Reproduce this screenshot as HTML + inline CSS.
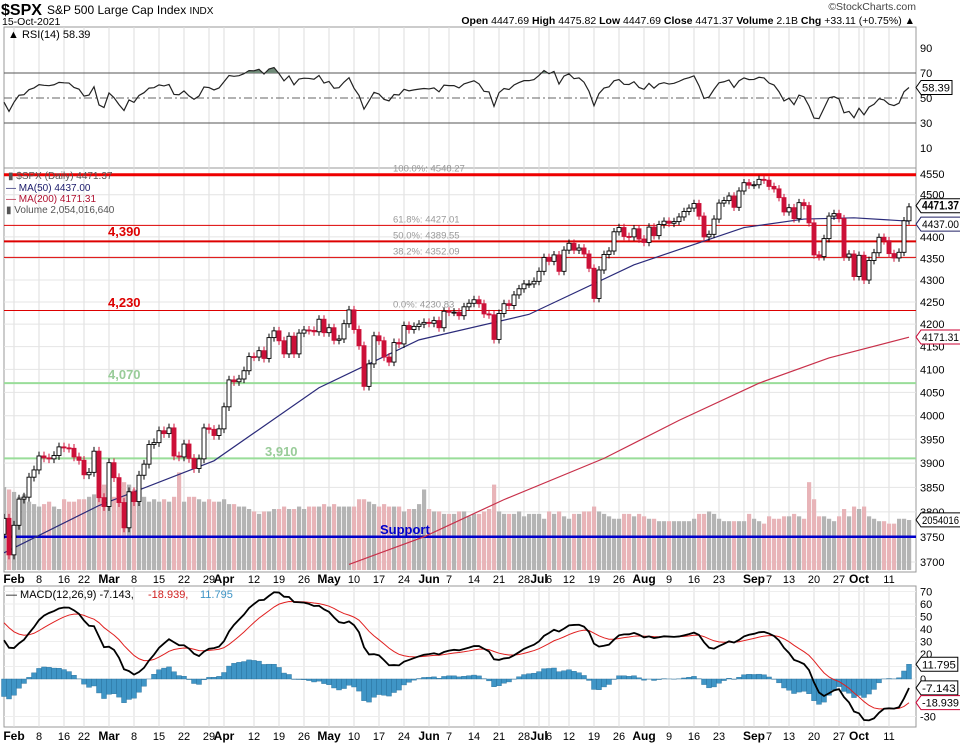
<!DOCTYPE html>
<html><head><meta charset="utf-8"><style>
body{margin:0;background:#fff;width:960px;height:744px;overflow:hidden;font-family:"Liberation Sans",sans-serif}
svg text{font-family:"Liberation Sans",sans-serif}
</style></head><body>
<svg id="c" width="960" height="744" xmlns="http://www.w3.org/2000/svg">
<text x="1" y="15" font-size="16" font-weight="bold">$SPX</text>
<text x="47" y="14" font-size="12">S&amp;P 500 Large Cap Index <tspan font-size="10">INDX</tspan></text>
<text x="2" y="25" font-size="10.5">15-Oct-2021</text>
<text x="916" y="10" font-size="10.5" fill="#444" text-anchor="end">©StockCharts.com</text>
<text x="915" y="24" font-size="10.5" text-anchor="end"><tspan font-weight="bold">Open</tspan> 4447.69  <tspan font-weight="bold">High</tspan> 4475.82  <tspan font-weight="bold">Low</tspan> 4447.69  <tspan font-weight="bold">Close</tspan> 4471.37  <tspan font-weight="bold">Volume</tspan> 2.1B  <tspan font-weight="bold">Chg</tspan> +33.11 (+0.75%) ▲</text>
<g id="g"></g>
</svg>
<script>
const closes=[3787,3714,
3773,3826,3830,3871,3886,3915,3911,3909,3916,3934,3932,3931,3913,3906,3876,3881,3925,3829,3811,
3901,3870,3819,3768,3841,3821,3875,3898,3939,3943,3968,3962,3974,3915,3913,3940,3910,3889,3909,3974,3971,3958,3972,
4019,4077,4073,4079,4097,4128,4127,4141,4124,4170,4185,4163,4134,4173,4134,4180,4187,4186,4183,4211,4181,
4192,4164,4167,4201,4232,4188,4152,4063,4112,4174,4163,4127,4116,4159,4156,4197,4188,4195,4200,4204,
4202,4208,4192,4229,4227,4227,4219,4239,4247,4255,4246,4223,4221,4166,4224,4246,4242,4266,4280,4291,4291,4297,
4320,4352,4343,4358,4320,4369,4385,4369,4374,4360,4327,4258,4323,4359,4367,4412,4422,4401,4400,4419,4395,
4387,4423,4403,4429,4437,4432,4436,4447,4460,4468,4479,4449,4400,4406,4442,4480,4486,4497,4470,4509,4529,4523,
4524,4537,4535,4520,4514,4493,4459,4469,4443,4481,4474,4433,4358,4354,4396,4449,4455,4443,4353,4360,4308,
4357,4300,4345,4363,4399,4391,4361,4351,4364,4438,4471];
const volumes=[3.4,3.3,
3.2,3.0,3.1,2.8,2.7,2.6,2.7,2.8,2.6,2.5,2.9,2.8,2.8,2.9,2.9,3.0,3.1,3.3,3.5,
3.4,3.0,3.2,3.6,3.5,3.3,3.2,3.0,2.8,2.9,2.8,2.9,2.8,3.0,4.0,2.8,3.0,3.0,2.9,2.8,2.9,2.8,2.8,
2.9,2.7,2.7,2.6,2.6,2.5,2.4,2.3,2.4,2.4,2.5,2.5,2.6,2.5,2.5,2.6,2.5,2.6,2.6,2.6,2.7,
2.6,2.7,2.6,2.6,2.6,2.6,2.9,2.9,2.8,2.7,2.6,2.7,2.6,2.6,2.6,2.4,2.5,2.5,2.7,3.3,
2.5,2.4,2.4,2.3,2.3,2.3,2.4,2.4,2.2,2.3,2.3,2.4,2.5,3.5,2.4,2.3,2.3,2.3,2.4,2.2,2.3,2.3,
2.3,2.1,2.4,2.3,2.4,2.2,2.1,2.3,2.3,2.4,2.4,2.6,2.4,2.3,2.2,2.1,2.1,2.3,2.3,2.2,2.3,
2.2,2.1,2.1,2.0,2.0,2.0,2.0,2.0,2.0,2.0,2.1,2.3,2.3,2.4,2.3,2.1,2.0,2.0,2.0,2.0,2.0,2.3,
2.1,2.0,1.9,2.2,2.1,2.1,2.2,2.2,2.3,2.2,2.1,3.6,2.9,2.2,2.2,2.1,2.0,2.2,2.5,2.2,2.6,
2.5,2.6,2.2,2.1,2.0,2.0,1.9,1.9,2.1,2.1,2.05];
const ma50Idx=[0,19,42,63,83,105,126,148,160,170,181];
const ma50Val=[3718,3813,3905,4060,4165,4222,4335,4422,4442,4445,4437];
const ma200Idx=[69,84,100,120,135,151,165,181];
const ma200Val=[3695,3750,3825,3910,3990,4070,4125,4171];
const tickIdx=[2,7,12,16,21,26,31,36,41,44,50,55,60,65,70,75,80,85,89,94,99,104,107,109,113,118,123,128,133,138,143,148,150,153,157,162,167,171,172,177];
const tickLbl=["Feb","8","16","22","Mar","8","15","22","29","Apr","12","19","26","May","10","17","24","Jun","7","14","21","28","Jul","6","12","19","26","Aug","9","16","23","","Sep","7","13","20","27","Oct","","11"];
const tickBold=["Feb","Mar","Apr","May","Jun","Jul","Aug","Sep","Oct"];
const priceTicks=[3700,3750,3800,3850,3900,3950,4000,4050,4100,4150,4200,4250,4300,4350,4400,4500,4550];
const rsiTicks=[10,30,50,70,90];
const macdTicks=[-30,0,10,20,30,40,50,60,70];
const NS="http://www.w3.org/2000/svg";
const g=document.getElementById('g');
function el(t,a,p){const e=document.createElementNS(NS,t);for(const k in a)e.setAttribute(k,a[k]);(p||g).appendChild(e);return e;}
function txt(x,y,s,a){const e=el('text',Object.assign({x:x,y:y,'font-size':11},a||{}));e.textContent=s;return e;}
const L=4,R=916;
const X=k=>4+5*k;
const PY=p=>174+1876*(Math.log(4550)-Math.log(p));
const RY=v=>98-(v-50)*1.25;
const MY=v=>679-v*1.25;
const VY=v=>570-v*24.4;
const f1=el('rect',{x:L,y:27,width:R-L,height:141,fill:'#fff',stroke:'#999'});


const f2=el('rect',{x:L,y:168,width:R-L,height:404,fill:'#fff',stroke:'#999'});


const f3=el('rect',{x:L,y:586,width:R-L,height:141,fill:'#fff',stroke:'#999'});


tickIdx.forEach((k,i)=>{
  [[27,168],[168,572],[586,727]].forEach(([a,b])=>el('line',{x1:X(k),x2:X(k),y1:a,y2:b,stroke:'#ddd'}));
  if(tickLbl[i]!==""){
    const b=tickBold.includes(tickLbl[i]);
    const a1=txt(X(k),583,tickLbl[i],{'text-anchor':'middle','font-weight':b?'bold':'normal','font-size':b?12:11});
    
    
    const a2=txt(X(k),740,tickLbl[i],{'text-anchor':'middle','font-weight':b?'bold':'normal','font-size':b?12:11});
    
    
  }
});
priceTicks.forEach(p=>{el('line',{x1:L,x2:R,y1:PY(p),y2:PY(p),stroke:'#e4e4e4'});
  const t=txt(920,PY(p)+4,String(p));
  
  });
rsiTicks.forEach(v=>{const t=txt(920,RY(v)+4,String(v));
  
  });
macdTicks.forEach(v=>{el('line',{x1:L,x2:R,y1:MY(v),y2:MY(v),stroke:'#eee'});
  const t=txt(920,MY(v)+4,String(v));
  
  });
let ag=14,al=16;const rsi=[];
closes.forEach((c,i)=>{if(i>0){const d=c-closes[i-1];ag=(ag*13+Math.max(d,0))/14;al=(al*13+Math.max(-d,0))/14;}rsi.push(100-100/(1+ag/al));});
el('line',{x1:L,x2:R,y1:RY(70),y2:RY(70),stroke:'#555'});
el('line',{x1:L,x2:R,y1:RY(30),y2:RY(30),stroke:'#555'});
el('line',{x1:L,x2:R,y1:RY(50),y2:RY(50),stroke:'#666','stroke-dasharray':'8,3,2,3'});
const rp=rsi.map((v,i)=>X(i)+','+RY(v)).join(' ');
const cp=el('clipPath',{id:'ob'});el('rect',{x:L,y:27,width:R-L,height:RY(70)-27},cp);
const rf=el('polygon',{points:X(0)+','+RY(70)+' '+rp+' '+X(closes.length-1)+','+RY(70),fill:'#6f8a78','clip-path':'url(#ob)'});


const rl=el('polyline',{points:rp,fill:'none',stroke:'#222','stroke-width':1.2});


const cp2=el('clipPath',{id:'pp'});el('rect',{x:L,y:168,width:R-L,height:404},cp2);
const pg=el('g',{'clip-path':'url(#pp)'});
volumes.forEach((v,i)=>{const up=i==0||closes[i]>=closes[i-1];
  const b=el('rect',{x:X(i)-2,y:VY(v),width:4.2,height:570-VY(v),fill:up?'#b4b4b4':'#e8b4b8'},pg);
  
  });
const lv=[[4548.27,'#e00',3],[4427.01,'#d00',1],[4389.55,'#d00',2],[4352.09,'#d00',1],[4230.83,'#d00',1],[4070,'#9d9',2],[3910,'#9d9',2],[3750,'#00c',2.5]];
lv.forEach(([p,c,w])=>{const l=el('line',{x1:L,x2:R,y1:PY(p),y2:PY(p),stroke:c,'stroke-width':w},pg);
  
  });
[["100.0%: 4548.27",4548.27],["61.8%: 4427.01",4427.01],["50.0%: 4389.55",4389.55],["38.2%: 4352.09",4352.09],["0.0%: 4230.83",4230.83]].forEach(([s,p])=>{
  const t=txt(393,PY(p)-3,s,{'font-size':9.5,fill:'#999'});});
[["4,390",108,236,'#d00'],["4,230",108,307,'#d00'],["4,070",108,379,'#9c9'],["3,910",265,456,'#9c9'],["Support",380,534,'#00c']].forEach(([s,x,y,c])=>{
  const t=txt(x,y,s,{'font-size':13,'font-weight':'bold',fill:c});});
const m50=el('polyline',{points:ma50Idx.map((k,i)=>X(k)+','+PY(ma50Val[i])).join(' '),fill:'none',stroke:'#2b2b7a','stroke-width':1.2},pg);


const m200=el('polyline',{points:ma200Idx.map((k,i)=>X(k)+','+PY(ma200Val[i])).join(' '),fill:'none',stroke:'#c8304a','stroke-width':1.2},pg);


closes.forEach((c,i)=>{const o=i==0?3755:closes[i-1];const up=c>=o;const col=up?'#000':'#cc1038';
  const hi=Math.max(o,c)+9,lo=Math.min(o,c)-9;
  el('line',{x1:X(i),x2:X(i),y1:PY(hi),y2:PY(lo),stroke:col},pg);
  const top=PY(Math.max(o,c)),h=Math.max(1,PY(Math.min(o,c))-top);
  const b=el('rect',{x:X(i)-2,y:top,width:4,height:h,fill:up?'#fff':col,stroke:col,'stroke-width':0.9},pg);
  
  });
let e12=3760,e26=3729,sg=45;const mac=[],sig=[];
closes.forEach((c,i)=>{if(i>0){e12+=(c-e12)*2/13;e26+=(c-e26)*2/27;}const m=e12-e26;if(i>0)sg+=(m-sg)*0.2;mac.push(m);sig.push(sg);});
mac.forEach((m,i)=>{const h=m-sig[i];const b=el('rect',{x:X(i)-2.5,y:Math.min(MY(0),MY(h)),width:5,height:Math.abs(MY(h)-MY(0)),fill:'#3f95c6',stroke:'#2a6f99','stroke-width':0.4});
  
  });
const sl=el('polyline',{points:sig.map((v,i)=>X(i)+','+MY(v)).join(' '),fill:'none',stroke:'#e02020','stroke-width':1});


const ml=el('polyline',{points:mac.map((v,i)=>X(i)+','+MY(v)).join(' '),fill:'none',stroke:'#000','stroke-width':1.8});


txt(8,38,"▲ RSI(14) 58.39",{'font-size':11});
txt(8,179,"▮ $SPX (Daily) 4471.37",{'font-size':10,fill:'#555'});
txt(6,191,"— MA(50) 4437.00",{'font-size':10,fill:'#1a1a6a'});
txt(6,202,"— MA(200) 4171.31",{'font-size':10,fill:'#b01030'});
txt(6,213,"▮ Volume 2,054,016,640",{'font-size':10,fill:'#555'});
txt(6,598,"— MACD(12,26,9) -7.143, ",{'font-size':11});
txt(148,598,"-18.939, ",{'font-size':11,fill:'#d02020'});
txt(200,598,"11.795",{'font-size':11,fill:'#3f95c6'});
function box(y,s,bold,c){const w=Math.min(40,s.length*5.8+2);el('polygon',{points:`916,${y} 921,${y-7} ${921+w},${y-7} ${921+w},${y+7} 921,${y+7}`,fill:'#fff',stroke:c||'#000'});
  const t=txt(922,y+4,s,{'font-size':bold?12:11,'font-weight':bold?'bold':'normal',textLength:w-3,lengthAdjust:'spacingAndGlyphs'});}
box(RY(58.39),"58.39");
box(PY(4471.37)-1,"4471.37",true);
box(PY(4437)+3,"4437.00",false,'#226');
box(PY(4171.31),"4171.31",false,'#c03');
box(VY(2.054),"2054016");
box(MY(11.795),"11.795");
box(MY(-7.143),"-7.143");
box(MY(-18.939),"-18.939",false,'#c03');
</script>
</body></html>
